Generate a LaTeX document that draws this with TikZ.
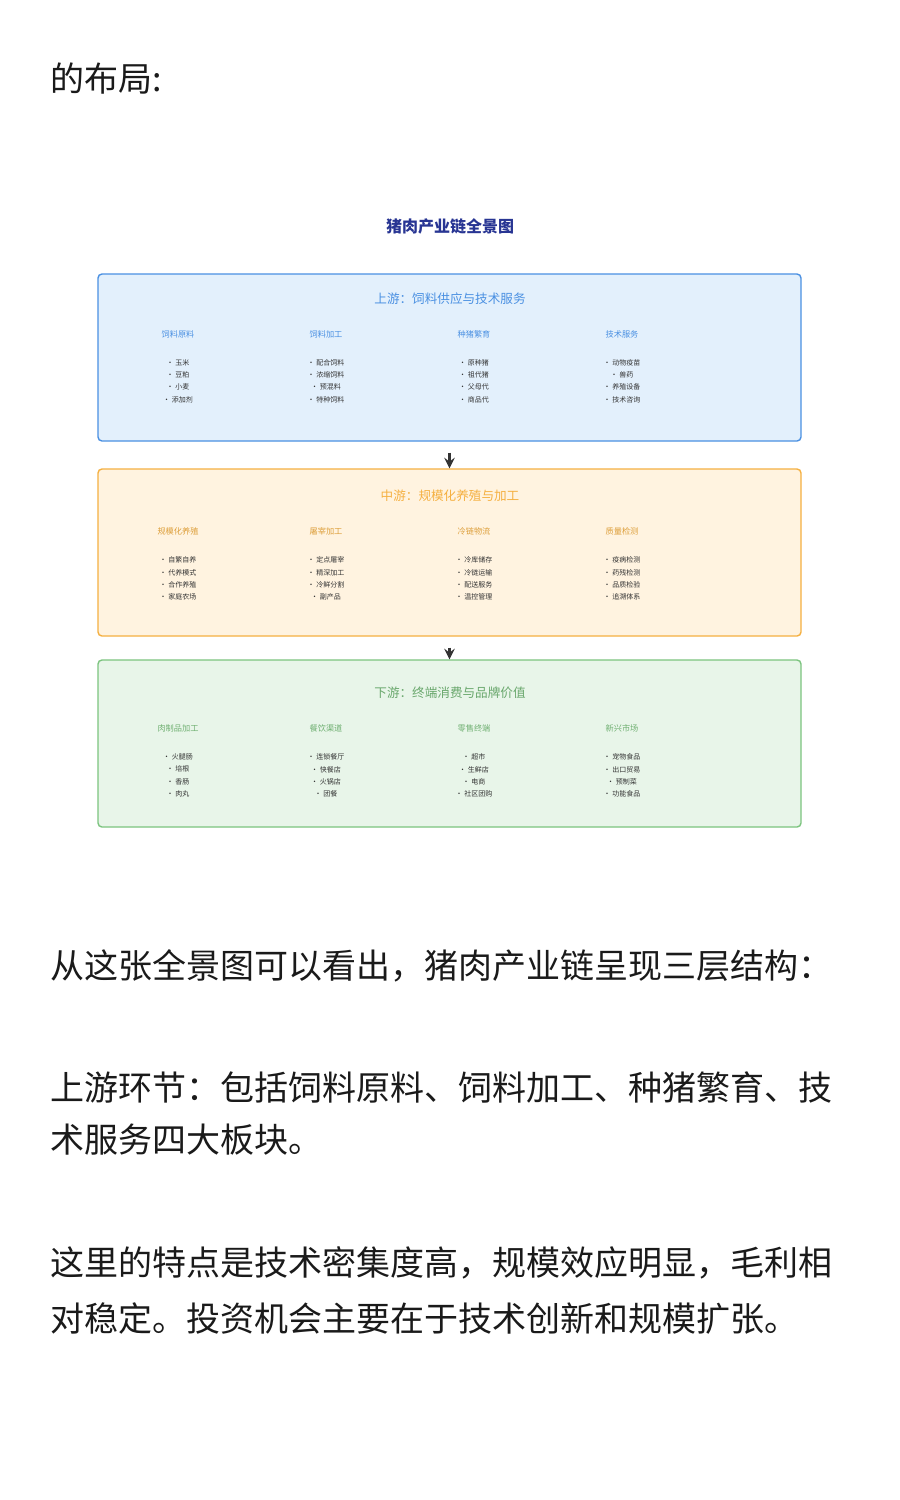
\documentclass[tikz,border=0pt]{standalone}
\usepackage{fontspec}
\setmainfont{Noto Sans CJK SC}
\usepackage{xcolor}
\usepackage{tikz}
\definecolor{chainNavy}{HTML}{283593}
\definecolor{upBlue}{HTML}{4A90E2}
\definecolor{upBg}{HTML}{E3F0FC}
\definecolor{midOrange}{HTML}{F5B041}
\definecolor{midBg}{HTML}{FFF3E0}
\definecolor{downGreen}{HTML}{7CC47F}
\definecolor{downBg}{HTML}{E8F5E9}
\definecolor{itemGray}{HTML}{333333}
\definecolor{bodyBlack}{HTML}{1A1A1A}
\tikzset{
  upbox/.style={rectangle,rounded corners=2pt,draw=upBlue,fill=upBg,line width=0.7pt,
    minimum width=351.5pt,minimum height=83.5pt},
  midbox/.style={rectangle,rounded corners=2pt,draw=midOrange,fill=midBg,line width=0.7pt,
    minimum width=351.5pt,minimum height=83.5pt},
  downbox/.style={rectangle,rounded corners=2pt,draw=downGreen,fill=downBg,line width=0.7pt,
    minimum width=351.5pt,minimum height=83.5pt},
  arrow/.style={->,>=stealth,line width=1.3pt,draw=itemGray},
  tiername/.style={font=\fontsize{6.3}{7}\selectfont},
  colname/.style={font=\fontsize{4.1}{5}\selectfont},
  itemlist/.style={align=center,text=itemGray,font=\fontsize{3.5}{6.15}\selectfont},
  bodytext/.style={anchor=west,inner sep=0pt,text=bodyBlack,font=\fontsize{17}{20}\selectfont}
}

\begin{document}
\begin{tikzpicture}[x=0.5pt,y=-0.5pt]
\useasboundingbox[fill=white] (0,0) rectangle (900,1500);

\node[bodytext] (intro) at (50,79) {的布局:};

\node[font=\bfseries\fontsize{8}{9}\selectfont, text=chainNavy] (title) at (450,226) {猪肉产业链全景图};

% three tiers
\node[upbox] (up) at (449.5,357.5) {};
\node[midbox] (mid) at (449.5,552.5) {};
\node[downbox] (down) at (449.5,743.5) {};

\draw[arrow, shorten <=5.5pt] (up) -- (mid);
\draw[arrow, shorten <=5.5pt] (mid) -- (down);

% upstream
\node[tiername, text=upBlue] (upname) at (450,299) {上游：饲料供应与技术服务};
\node[colname, text=upBlue] (feedraw) at (178,334) {饲料原料};
\node[colname, text=upBlue] (feedproc) at (326,334) {饲料加工};
\node[colname, text=upBlue] (breed) at (474,334) {种猪繁育};
\node[colname, text=upBlue] (techsvc) at (622,334) {技术服务};
\node[itemlist] (feedrawlist) at (178,381) {• 玉米\\• 豆粕\\• 小麦\\• 添加剂};
\node[itemlist] (feedproclist) at (326,381) {• 配合饲料\\• 浓缩饲料\\• 预混料\\• 特种饲料};
\node[itemlist] (breedlist) at (474,381) {• 原种猪\\• 祖代猪\\• 父母代\\• 商品代};
\node[itemlist] (techsvclist) at (622,381) {• 动物疫苗\\• 兽药\\• 养殖设备\\• 技术咨询};

% midstream
\node[tiername, text=midOrange] (midname) at (450,496) {中游：规模化养殖与加工};
\node[colname, text=midOrange!90!black] (farm) at (178,531) {规模化养殖};
\node[colname, text=midOrange!90!black] (slaughter) at (326,531) {屠宰加工};
\node[colname, text=midOrange!90!black] (coldchain) at (474,531) {冷链物流};
\node[colname, text=midOrange!90!black] (quality) at (622,531) {质量检测};
\node[itemlist] (farmlist) at (178,578.5) {• 自繁自养\\• 代养模式\\• 合作养殖\\• 家庭农场};
\node[itemlist] (slaughterlist) at (326,578.5) {• 定点屠宰\\• 精深加工\\• 冷鲜分割\\• 副产品};
\node[itemlist] (coldchainlist) at (474,578.5) {• 冷库储存\\• 冷链运输\\• 配送服务\\• 温控管理};
\node[itemlist] (qualitylist) at (622,578.5) {• 疫病检测\\• 药残检测\\• 品质检验\\• 追溯体系};

% downstream
\node[tiername, text=downGreen!85!black] (downname) at (450,693) {下游：终端消费与品牌价值};
\node[colname, text=downGreen!90!black] (meatproc) at (178,728) {肉制品加工};
\node[colname, text=downGreen!90!black] (catering) at (326,728) {餐饮渠道};
\node[colname, text=downGreen!90!black] (retail) at (474,728) {零售终端};
\node[colname, text=downGreen!90!black] (emerging) at (622,728) {新兴市场};
\node[itemlist] (meatproclist) at (178,775.5) {• 火腿肠\\• 培根\\• 香肠\\• 肉丸};
\node[itemlist] (cateringlist) at (326,775.5) {• 连锁餐厅\\• 快餐店\\• 火锅店\\• 团餐};
\node[itemlist] (retaillist) at (474,775.5) {• 超市\\• 生鲜店\\• 电商\\• 社区团购};
\node[itemlist] (emerginglist) at (622,775.5) {• 宠物食品\\• 出口贸易\\• 预制菜\\• 功能食品};

% text below the picture
\node[bodytext] (para1) at (50,966) {从这张全景图可以看出，猪肉产业链呈现三层结构：};
\node[bodytext] (para2a) at (50,1087) {上游环节：包括饲料原料、饲料加工、种猪繁育、技};
\node[bodytext] (para2b) at (50,1140) {术服务四大板块。};
\node[bodytext] (para3a) at (50,1263) {这里的特点是技术密集度高，规模效应明显，毛利相};
\node[bodytext] (para3b) at (50,1319) {对稳定。投资机会主要在于技术创新和规模扩张。};
\end{tikzpicture}
\end{document}
